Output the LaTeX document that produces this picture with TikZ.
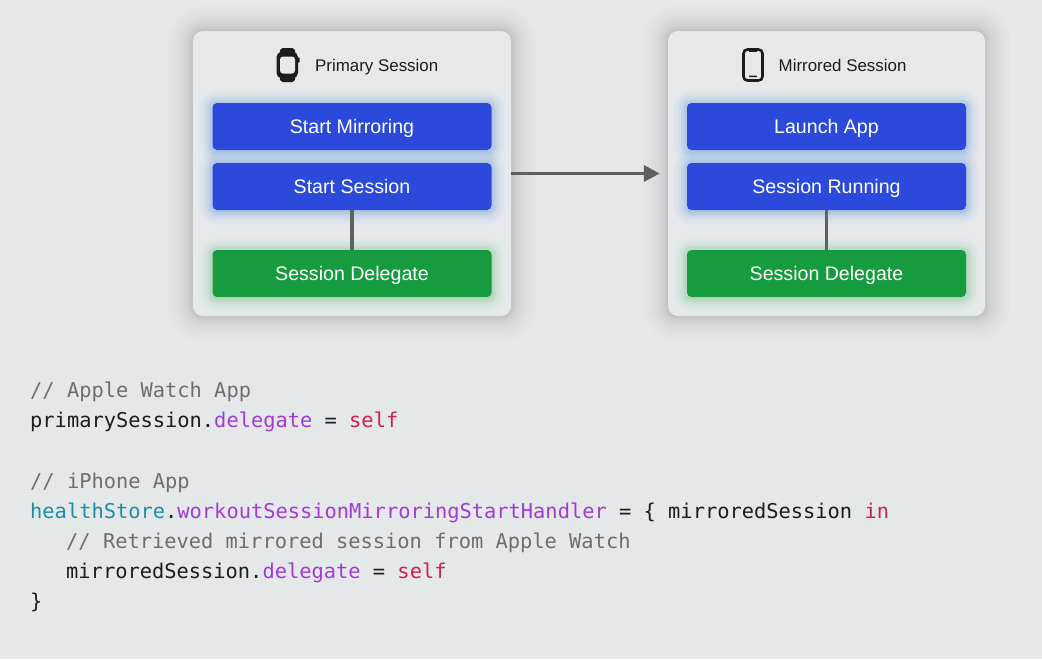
\documentclass[tikz,border=0pt]{standalone}
\usepackage{fontspec}
\setmainfont{Liberation Sans}
\setmonofont{DejaVu Sans Mono}
\usetikzlibrary{arrows.meta,calc}
\definecolor{bgc}{HTML}{E5E8E9}
\definecolor{cardc}{HTML}{E6E9EB}
\definecolor{bluec}{HTML}{2B49DB}
\definecolor{glowb}{HTML}{3F7FE6}
\definecolor{greenc}{HTML}{169C3E}
\definecolor{glowg}{HTML}{3DB85F}
\definecolor{linec}{HTML}{5B6060}
\definecolor{inkc}{HTML}{1B1D1F}
\definecolor{cmtc}{HTML}{6C6F70}
\definecolor{purc}{HTML}{A23BD6}
\definecolor{redc}{HTML}{D1204F}
\definecolor{tealc}{HTML}{1A8FA8}
\definecolor{iconc}{HTML}{1C1C1E}
% x1 y1 x2 y2 radius colour offsets opacity
\newcommand{\softshadow}[8]{%
  \foreach \i in #7{%
    \fill[#6,opacity=#8,rounded corners={#5+\i*1pt}] ({#1-\i},{#2-\i}) rectangle ({#3+\i},{#4+\i});
  }}
\tikzset{
  card/.style={fill=cardc,rounded corners=10pt,minimum width=318pt,minimum height=285pt,inner sep=0pt},
  btn/.style={rounded corners=4.5pt,minimum width=279pt,minimum height=47pt,inner sep=0pt,text=white,text height=14pt,text depth=1pt,font=\fontsize{19.6}{22}\selectfont},
  bluebtn/.style={btn,fill=bluec},
  greenbtn/.style={btn,fill=greenc},
  heading/.style={inner sep=0pt,anchor=base west,text=inkc,font=\fontsize{16.9}{20}\selectfont},
  code/.style={inner sep=0pt,anchor=base west,text=inkc,font=\ttfamily\fontsize{20.38}{24}\selectfont},
  conn/.style={draw=linec,line width=3.6pt},
  flow/.style={draw=linec,line width=3.8pt,-{Triangle[length=16pt,width=16pt]},shorten >=8pt},
}
\newcommand{\cm}[1]{\textcolor{cmtc}{#1}}
\newcommand{\pu}[1]{\textcolor{purc}{#1}}
\newcommand{\rd}[1]{\textcolor{redc}{#1}}
\newcommand{\tl}[1]{\textcolor{tealc}{#1}}
\begin{document}
\begin{tikzpicture}[x=1pt,y=-1pt]
\useasboundingbox (0,0) rectangle (1042,659);
\fill[bgc] (0,0) rectangle (1042,659);
% card shadows
\softshadow{193}{31}{511}{316}{10pt}{black}{{1,2,3,4,5,7,9,11,14,17,21,25}}{0.011}
\softshadow{668}{31}{985}{316}{10pt}{black}{{1,2,3,4,5,7,9,11,14,17,21,25}}{0.011}
\node[card] (pcard) at (352,173.5) {};
\node[card,minimum width=317pt] (mcard) at (826.5,173.5) {};
% button glows
\softshadow{212.5}{104}{491.5}{151}{4.5pt}{glowb}{{1,2,3,4,5,6,8,10,13}}{0.04}
\softshadow{212.5}{164}{491.5}{211}{4.5pt}{glowb}{{1,2,3,4,5,6,8,10,13}}{0.04}
\softshadow{212.5}{251}{491.5}{298}{4.5pt}{glowg}{{1,2,3,4,5,6,8,10,13}}{0.035}
\softshadow{687}{104}{966}{151}{4.5pt}{glowb}{{1,2,3,4,5,6,8,10,13}}{0.04}
\softshadow{687}{164}{966}{211}{4.5pt}{glowb}{{1,2,3,4,5,6,8,10,13}}{0.04}
\softshadow{687}{251}{966}{298}{4.5pt}{glowg}{{1,2,3,4,5,6,8,10,13}}{0.035}
% boxes and connectors
\node[bluebtn] (p1) at (352,126.5) {Start Mirroring};
\node[bluebtn] (p2) at (352,186.5) {Start Session};
\node[greenbtn] (p3) at (352,273.5) {Session Delegate};
\node[bluebtn] (m1) at (826.5,126.5) {Launch App};
\node[bluebtn] (m2) at (826.5,186.5) {Session Running};
\node[greenbtn] (m3) at (826.5,273.5) {Session Delegate};
\draw[conn] (p2) -- (p3);
\draw[conn] (m2) -- (m3);
\draw[flow] (pcard.east) -- (mcard.west);
% headings
\node[heading] (ph) at (315,71.5) {Primary Session};
\node[heading] (mh) at (778.5,71.5) {Mirrored Session};
% watch icon
\fill[iconc,rounded corners=2pt] (280.5,48) -- (294.5,48) -- (296,56) -- (279,56) -- cycle;
\fill[iconc,rounded corners=2pt] (279,74) -- (296,74) -- (294.5,82) -- (280.5,82) -- cycle;
\fill[iconc,rounded corners=5pt] (276.5,52) rectangle (298,78);
\fill[cardc,rounded corners=3pt] (280,56.5) rectangle (295,73.5);
\fill[iconc,rounded corners=0.6pt] (297.5,57.5) rectangle (299.5,62.5);
% phone icon
\draw[iconc,line width=2.6pt,rounded corners=4pt] (743.5,49.5) rectangle (762.5,80.5);
\fill[iconc] (749,49.5) rectangle (757,52);
\fill[iconc,rounded corners=.5pt] (749,75.6) rectangle (757,77);
% code
\node[code] (c1) at (30,397) {\cm{// Apple Watch App}};
\node[code] (c2) at (30,427) {primarySession.\pu{delegate} = \rd{self}};
\node[code] (c3) at (30,488) {\cm{// iPhone App}};
\node[code] (c4) at (30,518) {\tl{healthStore}.\pu{workoutSessionMirroringStartHandler} = \{ mirroredSession \rd{in}};
\node[code] (c5) at (66,548) {\cm{// Retrieved mirrored session from Apple Watch}};
\node[code] (c6) at (66,578) {mirroredSession.\pu{delegate} = \rd{self}};
\node[code] (c7) at (30,608) {\}};
\end{tikzpicture}
\end{document}
